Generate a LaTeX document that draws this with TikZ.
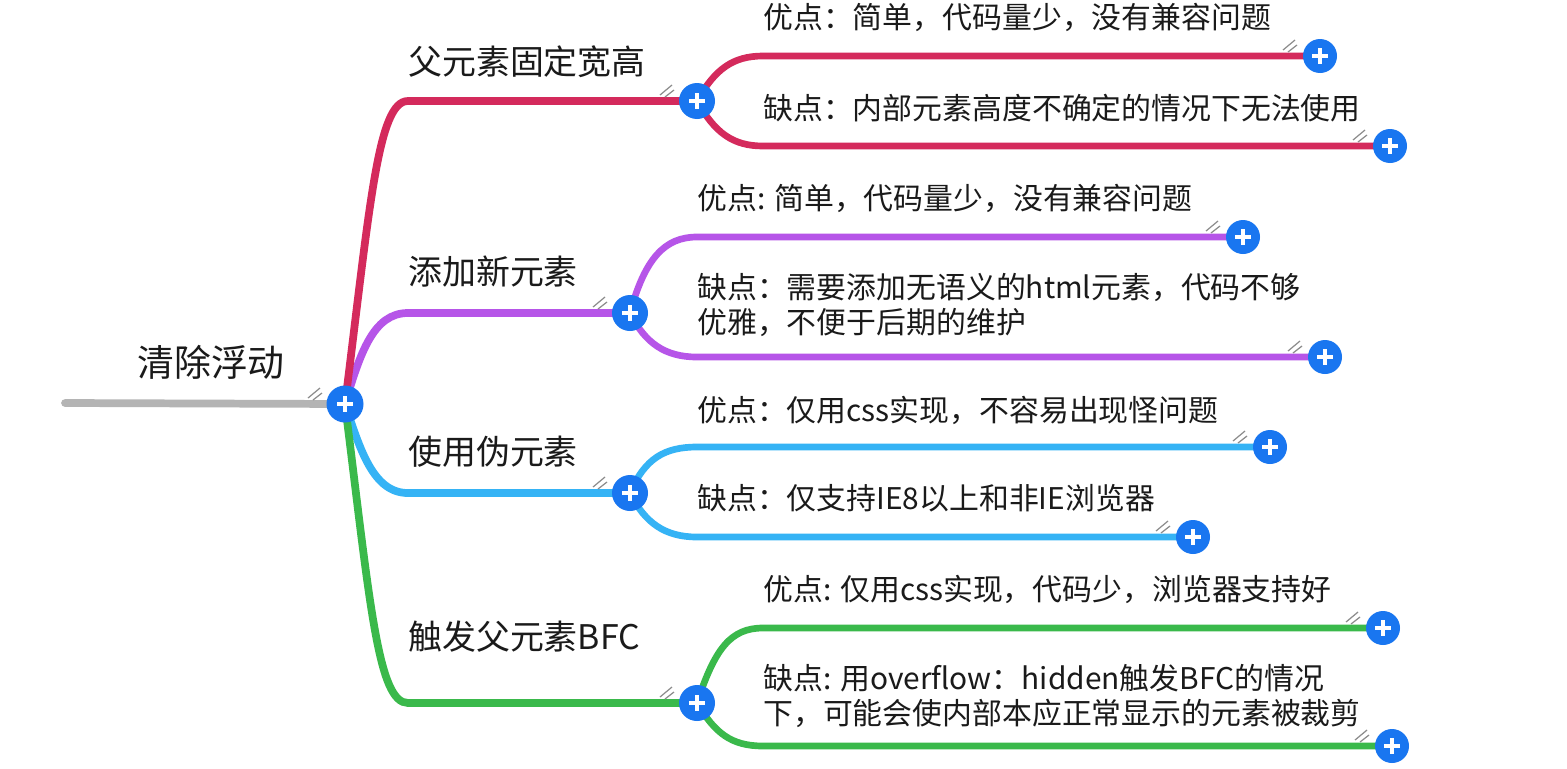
\documentclass[tikz,border=0pt]{standalone}
\usepackage{fontspec}
\setmainfont{Noto Sans CJK SC}
\usetikzlibrary{positioning,backgrounds}
\definecolor{topicR}{HTML}{D42A5C}
\definecolor{topicP}{HTML}{B655E8}
\definecolor{topicB}{HTML}{35B3F5}
\definecolor{topicG}{HTML}{3AB94B}
\definecolor{rootgray}{HTML}{B4B4B4}
\definecolor{btnblue}{HTML}{1976F0}
\definecolor{ink}{HTML}{1A1A1A}

\begin{document}
\begin{tikzpicture}[x=0.02cm,y=-0.02cm,
btn/.style={circle,fill=btnblue,minimum size=#1,inner sep=0pt,
 path picture={\draw[white,line width=2.8pt]
  ([xshift=-4.5pt]path picture bounding box.center)--([xshift=4.5pt]path picture bounding box.center)
  ([yshift=-4.5pt]path picture bounding box.center)--([yshift=4.5pt]path picture bounding box.center);}},
btn/.default=0.72cm,
roottext/.style={text=ink,inner sep=0pt,font=\fontsize{21pt}{25pt}\selectfont},
topic/.style={anchor=west,text=ink,inner sep=0pt,font=\fontsize{19.3pt}{23pt}\selectfont},
leaf/.style={anchor=west,text=ink,inner sep=0pt,align=left,font=\fontsize{17pt}{19.8pt}\selectfont},
branch/.style={draw=#1,line width=4.4pt,line cap=round},
twig/.style={draw=#1,line width=3.8pt,line cap=round},
hatch/.style={draw=black!45,line width=.7pt}]
\useasboundingbox (0,0) rectangle (1567,768);

% root
\coordinate (rootstart) at (65,403);
\node[btn=0.74cm] (root) at (345,404) {};
\node[roottext] (troot) at (211,362) {清除浮动};

% first level
\node[btn] (A) at (697,101) {};
\node[btn] (B) at (630,313) {};
\node[btn] (C) at (630,493) {};
\node[btn] (D) at (697,703) {};
\node[topic] (tA) at (408,62) {父元素固定宽高};
\node[topic] (tB) at (408,272) {添加新元素};
\node[topic] (tC) at (408,452) {使用伪元素};
\node[topic] (tD) at (408,637) {触发父元素BFC};

% leaves
\node[btn=0.68cm] (A1) at (1320,56) {};
\node[btn=0.68cm] (A2) at (1390,146) {};
\node[btn=0.68cm] (B1) at (1243,237) {};
\node[btn=0.68cm] (B2) at (1325,357) {};
\node[btn=0.68cm] (C1) at (1270,447) {};
\node[btn=0.68cm] (C2) at (1193,537) {};
\node[btn=0.68cm] (D1) at (1383,628) {};
\node[btn=0.68cm] (D2) at (1392,746) {};
\node[leaf] (tA1) at (763,17) {优点：简单，代码量少，没有兼容问题};
\node[leaf] (tA2) at (763,108) {缺点：内部元素高度不确定的情况下无法使用};
\node[leaf] (tB1) at (697,198) {优点: 简单，代码量少，没有兼容问题};
\node[leaf] (tB2) at (697,305) {缺点：需要添加无语义的html元素，代码不够\\优雅，不便于后期的维护};
\node[leaf] (tC1) at (697,410) {优点：仅用css实现，不容易出现怪问题};
\node[leaf] (tC2) at (697,498) {缺点：仅支持IE8以上和非IE浏览器};
\node[leaf] (tD1) at (763,589) {优点: 仅用css实现，代码少，浏览器支持好};
\node[leaf] (tD2) at (763,696) {缺点: 用overflow：hidden触发BFC的情况\\下，可能会使内部本应正常显示的元素被裁剪};

\begin{scope}[on background layer]
\fill[white] (0,0) rectangle (1567,768);
\draw[branch=rootgray] (rootstart) -- (root.center);
\draw[branch=topicB] (root.center) .. controls +(15,45) and +(-35,0) .. (tC.west |- C) -- (C.center);
\draw[branch=topicG] (root.center) .. controls +(25,200) and +(-30,0) .. (tD.west |- D) -- (D.center);
\draw[branch=topicP] (root.center) .. controls +(15,-50) and +(-35,0) .. (tB.west |- B) -- (B.center);
\draw[branch=topicR] (root.center) .. controls +(25,-200) and +(-30,0) .. (tA.west |- A) -- (A.center);
% second level
\draw[twig=topicR] (A.center) .. controls +(18,-32) and +(-30,0) .. (tA1.west |- A1) -- (A1.center);
\draw[twig=topicR] (A.center) .. controls +(18,32) and +(-30,0) .. (tA2.west |- A2) -- (A2.center);
\draw[twig=topicP] (B.center) .. controls +(15,-55) and +(-32,0) .. (tB1.west |- B1) -- (B1.center);
\draw[twig=topicP] (B.center) .. controls +(15,30) and +(-32,0) .. (tB1.west |- B2) -- (B2.center);
\draw[twig=topicB] (C.center) .. controls +(15,-35) and +(-32,0) .. (tC1.west |- C1) -- (C1.center);
\draw[twig=topicB] (C.center) .. controls +(15,30) and +(-32,0) .. (tC2.west |- C2) -- (C2.center);
\draw[twig=topicG] (D.center) .. controls +(18,-55) and +(-32,0) .. (tD1.west |- D1) -- (D1.center);
\draw[twig=topicG] (D.center) .. controls +(18,30) and +(-32,0) .. (tD1.west |- D2) -- (D2.center);
\end{scope}

% small marks before each button
\foreach \n in {root,A,B,C,D,A1,A2,B1,B2,C1,C2,D1,D2}
  \draw[hatch] ([shift={(-37,-6)}]\n.center) -- ++(12,-10)
               ([shift={(-32,-4)}]\n.center) -- ++(9,-7);
\end{tikzpicture}
\end{document}
